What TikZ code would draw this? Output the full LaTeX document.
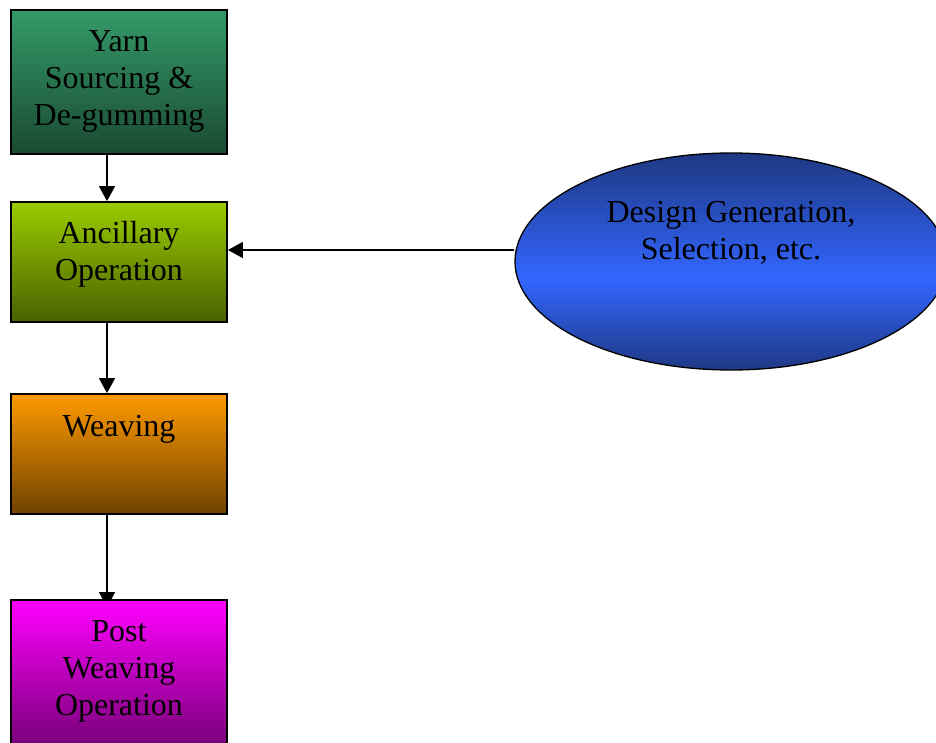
\documentclass[tikz,border=0pt]{standalone}
\usepackage{fontspec}
\setmainfont{Liberation Serif}
\usetikzlibrary{shapes.geometric,arrows.meta,backgrounds}
\definecolor{gA}{HTML}{349A68}
\definecolor{gB}{HTML}{1A4A32}
\definecolor{lA}{HTML}{9ACC00}
\definecolor{lB}{HTML}{4A6100}
\definecolor{oA}{HTML}{FF9A00}
\definecolor{oB}{HTML}{6E4200}
\definecolor{mA}{HTML}{FF00FF}
\definecolor{mB}{HTML}{7A007A}
\definecolor{bA}{HTML}{1E3883}
\definecolor{bB}{HTML}{3366FF}
\pgfdeclareverticalshading{ellsh}{100bp}{color(0bp)=(bA); color(25bp)=(bA); color(46bp)=(bB); color(75bp)=(bA); color(100bp)=(bA)}
\tikzset{
  stagebox/.style={draw=black, line width=1.8pt, rectangle, minimum width=216pt, inner sep=0pt},
  boxtext/.style={anchor=north, inner sep=0pt, align=center, font=\fontsize{32}{37}\selectfont},
  conn/.style={line width=1.5pt, -{Triangle[width=16pt,length=15pt]}},
}
\begin{document}
\begin{tikzpicture}[x=1pt,y=-1pt]
\useasboundingbox (0,0) rectangle (936,743);
\clip (0,0) rectangle (936,743);
% boxes
\node[stagebox, minimum height=144pt, top color=gA, bottom color=gB] (yarn) at (119,82) {};
\node[stagebox, minimum height=120pt, top color=lA, bottom color=lB] (anc) at (119,262) {};
\node[stagebox, minimum height=120pt, top color=oA, bottom color=oB] (weave) at (119,454) {};
\node[stagebox, minimum height=170pt, top color=mA, bottom color=mB!80!black] (post) at (119,685) {};
\node[draw=black, line width=1.3pt, ellipse, minimum width=432pt, minimum height=217pt, inner sep=0pt,
      shading=ellsh] (design) at (731,261.5) {};
% texts
\node[boxtext] (t1) at (119,30) {Yarn\\Sourcing \&\\De-gumming};
\node[boxtext] (t2) at (119,221) {Ancillary\\Operation};
\node[boxtext] (t3) at (119,415) {Weaving};
\node[boxtext] (t4) at (119,620) {Post\\Weaving\\Operation};
\node[boxtext] (t5) at (731,201) {Design Generation,\\Selection, etc.};
% connectors
\draw[conn] (yarn.south -| 107,0) -- (anc.north -| 107,0);
\draw[conn] (anc.south -| 107,0) -- (weave.north -| 107,0);
\begin{scope}[on background layer]
\draw[conn] (weave.south -| 107,0) -- ([yshift=-8pt]post.north -| 107,0);
\end{scope}
\draw[conn] (design.west |- 0,250) -- (anc.east |- 0,250);
\end{tikzpicture}
\end{document}
